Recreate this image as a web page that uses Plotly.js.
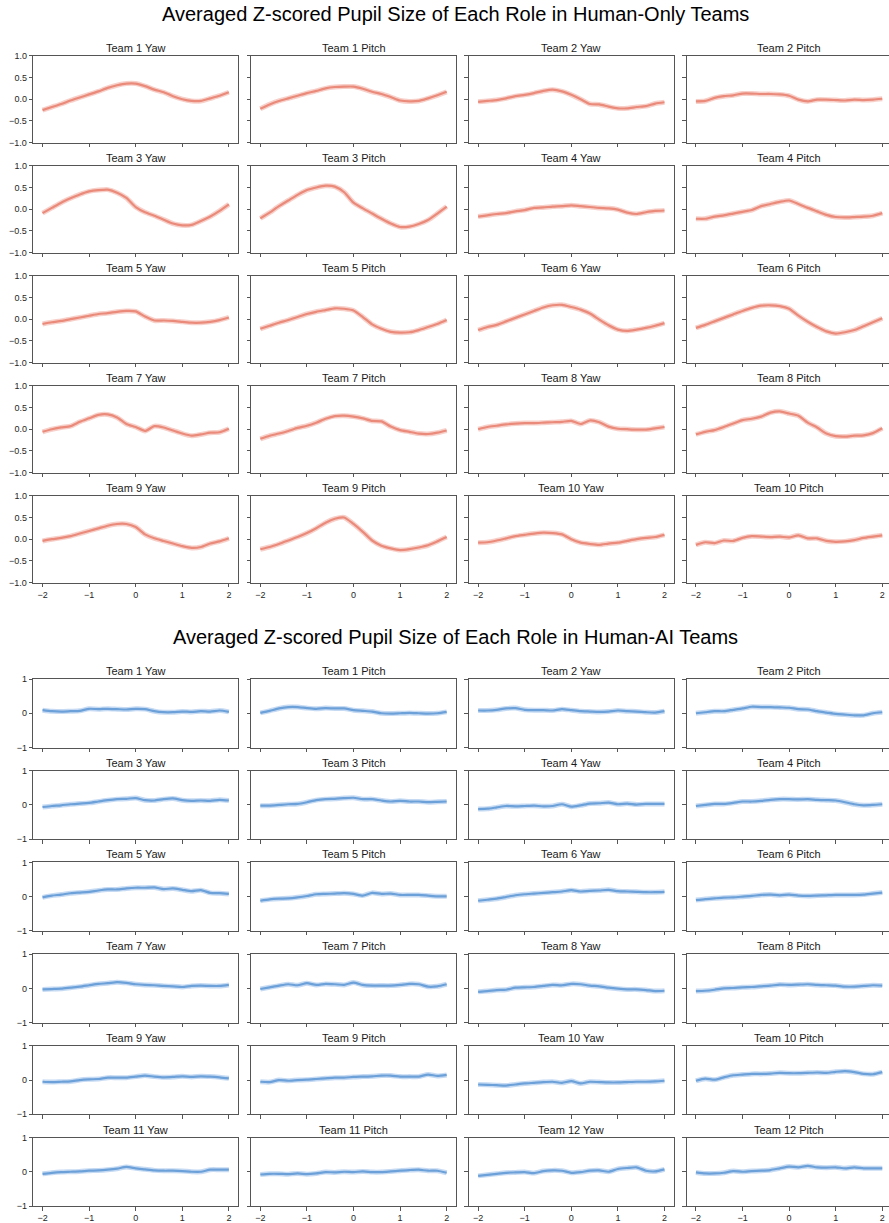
<!DOCTYPE html>
<html><head><meta charset="utf-8">
<script src="https://cdn.plot.ly/plotly-3.0.1.min.js"></script>
<style>html,body{margin:0;padding:0;background:#fff}#chart{width:889px;height:1223px}</style>
</head><body><div id="chart"></div>
<script>
// sample positions (x)
const lag = [-2,-1.8,-1.6,-1.4,-1.2,-1,-0.8,-0.6,-0.4,-0.2,0,0.2,0.4,0.6,0.8,1,1.2,1.4,1.6,1.8,2];
const xTickVals = [-2,-1,0,1,2];
const xTickText = ['\u22122','\u22121','0','1','2'];
const yTickValsHO = [-1,-0.5,0,0.5,1];
const yTickTextHO = ['\u22121.0','\u22120.5','0.0','0.5','1.0'];
const yTickValsAI = [-1,0,1];
const yTickTextAI = ['\u22121','0','1'];
const titleHO = 'Averaged Z-scored Pupil Size of Each Role in Human-Only Teams';
const titleAI = 'Averaged Z-scored Pupil Size of Each Role in Human-AI Teams';
const hoTeams = [1,2,3,4,5,6,7,8,9,10];
const aiTeams = [1,2,3,4,5,6,7,8,9,10,11,12];
const roles = ['Yaw','Pitch'];

// Human-only teams
const ho_t1_yaw   = [-0.25,-0.18,-0.11,-0.03,0.04,0.11,0.18,0.26,0.32,0.36,0.36,0.30,0.22,0.16,0.07,0.00,-0.04,-0.04,0.02,0.08,0.16];
const ho_t1_pitch = [-0.22,-0.12,-0.04,0.02,0.08,0.14,0.19,0.25,0.28,0.29,0.29,0.24,0.17,0.12,0.05,-0.03,-0.05,-0.04,0.02,0.09,0.17];
const ho_t2_yaw   = [-0.06,-0.04,-0.02,0.02,0.07,0.10,0.14,0.19,0.22,0.18,0.10,0.00,-0.11,-0.12,-0.17,-0.21,-0.21,-0.18,-0.16,-0.10,-0.07];
const ho_t2_pitch = [-0.05,-0.04,0.03,0.07,0.09,0.13,0.13,0.12,0.12,0.11,0.08,-0.01,-0.05,-0.01,-0.01,-0.02,-0.03,-0.01,-0.02,-0.01,0.01];
const ho_t3_yaw   = [-0.09,0.03,0.15,0.25,0.34,0.41,0.44,0.45,0.38,0.26,0.05,-0.07,-0.15,-0.24,-0.33,-0.37,-0.36,-0.27,-0.17,-0.04,0.11];
const ho_t3_pitch = [-0.21,-0.08,0.07,0.20,0.33,0.44,0.50,0.54,0.52,0.39,0.15,0.02,-0.10,-0.22,-0.33,-0.41,-0.40,-0.34,-0.25,-0.10,0.06];
const ho_t4_yaw   = [-0.17,-0.14,-0.11,-0.09,-0.05,-0.02,0.03,0.04,0.06,0.07,0.09,0.07,0.05,0.03,0.02,-0.01,-0.08,-0.11,-0.07,-0.04,-0.03];
const ho_t4_pitch = [-0.22,-0.22,-0.17,-0.14,-0.10,-0.06,-0.02,0.07,0.12,0.17,0.20,0.12,0.03,-0.05,-0.13,-0.18,-0.19,-0.18,-0.17,-0.15,-0.09];
const ho_t5_yaw   = [-0.11,-0.07,-0.04,0.00,0.04,0.08,0.12,0.14,0.17,0.19,0.18,0.06,-0.03,-0.03,-0.04,-0.06,-0.08,-0.08,-0.06,-0.02,0.04];
const ho_t5_pitch = [-0.22,-0.15,-0.08,-0.02,0.05,0.12,0.17,0.21,0.25,0.24,0.20,0.05,-0.12,-0.22,-0.29,-0.31,-0.30,-0.25,-0.18,-0.11,-0.02];
const ho_t6_yaw   = [-0.25,-0.18,-0.13,-0.05,0.03,0.11,0.19,0.27,0.32,0.33,0.28,0.22,0.13,-0.01,-0.14,-0.24,-0.27,-0.24,-0.20,-0.15,-0.09];
const ho_t6_pitch = [-0.20,-0.13,-0.05,0.03,0.11,0.19,0.26,0.31,0.32,0.30,0.24,0.08,-0.06,-0.18,-0.28,-0.33,-0.30,-0.25,-0.16,-0.07,0.02];
const ho_t7_yaw   = [-0.06,0.00,0.04,0.07,0.17,0.25,0.33,0.34,0.27,0.12,0.05,-0.04,0.07,0.04,-0.03,-0.10,-0.15,-0.12,-0.08,-0.07,0.01];
const ho_t7_pitch = [-0.22,-0.15,-0.10,-0.04,0.03,0.08,0.15,0.24,0.30,0.31,0.29,0.25,0.19,0.18,0.06,-0.02,-0.06,-0.10,-0.11,-0.08,-0.03];
const ho_t8_yaw   = [0.00,0.05,0.08,0.11,0.13,0.14,0.14,0.15,0.16,0.17,0.19,0.12,0.20,0.16,0.06,0.01,0.00,-0.01,-0.01,0.02,0.05];
const ho_t8_pitch = [-0.12,-0.06,-0.02,0.05,0.13,0.21,0.24,0.29,0.38,0.41,0.36,0.31,0.15,0.04,-0.10,-0.16,-0.17,-0.15,-0.14,-0.09,0.02];
const ho_t9_yaw   = [-0.04,0.00,0.03,0.07,0.13,0.19,0.25,0.31,0.35,0.35,0.28,0.11,0.02,-0.04,-0.10,-0.16,-0.20,-0.18,-0.10,-0.05,0.02];
const ho_t9_pitch = [-0.23,-0.18,-0.11,-0.03,0.05,0.14,0.25,0.38,0.47,0.50,0.35,0.17,-0.03,-0.15,-0.21,-0.25,-0.23,-0.19,-0.14,-0.05,0.05];
const ho_t10_yaw  = [-0.08,-0.07,-0.03,0.02,0.07,0.10,0.13,0.15,0.14,0.11,0.00,-0.08,-0.11,-0.13,-0.10,-0.08,-0.04,0.00,0.03,0.05,0.10];
const ho_t10_pitch= [-0.13,-0.07,-0.09,-0.03,-0.04,0.03,0.07,0.06,0.05,0.06,0.04,0.09,0.02,0.02,-0.04,-0.06,-0.05,-0.02,0.03,0.06,0.09];

// Human-AI teams
const ai_t1_yaw   = [0.09,0.06,0.05,0.06,0.07,0.13,0.12,0.13,0.12,0.11,0.13,0.12,0.06,0.03,0.03,0.05,0.04,0.06,0.05,0.08,0.04];
const ai_t1_pitch = [0.01,0.07,0.14,0.18,0.18,0.15,0.13,0.15,0.14,0.14,0.09,0.07,0.05,0.00,-0.01,0.00,0.01,0.00,-0.01,0.00,0.04];
const ai_t2_yaw   = [0.08,0.08,0.10,0.14,0.15,0.10,0.09,0.09,0.08,0.12,0.09,0.06,0.05,0.04,0.05,0.08,0.06,0.05,0.03,0.02,0.06];
const ai_t2_pitch = [0.00,0.03,0.06,0.06,0.10,0.14,0.19,0.18,0.18,0.17,0.16,0.12,0.11,0.06,0.02,-0.02,-0.04,-0.06,-0.06,0.00,0.03];
const ai_t3_yaw   = [-0.06,-0.03,-0.01,0.02,0.04,0.06,0.10,0.14,0.17,0.18,0.20,0.14,0.13,0.17,0.19,0.14,0.12,0.13,0.12,0.15,0.13];
const ai_t3_pitch = [-0.02,-0.02,0.00,0.02,0.03,0.08,0.14,0.17,0.18,0.20,0.21,0.17,0.17,0.13,0.10,0.12,0.10,0.10,0.08,0.09,0.10];
const ai_t4_yaw   = [-0.12,-0.11,-0.07,-0.03,-0.04,-0.03,-0.02,-0.04,-0.03,0.02,-0.05,-0.01,0.04,0.05,0.07,0.02,0.04,0.01,0.03,0.03,0.03];
const ai_t4_pitch = [-0.03,0.00,0.03,0.03,0.06,0.10,0.10,0.12,0.15,0.17,0.17,0.16,0.17,0.15,0.14,0.13,0.08,0.02,-0.01,0.00,0.02];
const ai_t5_yaw   = [-0.02,0.03,0.06,0.10,0.12,0.14,0.18,0.21,0.21,0.24,0.26,0.26,0.27,0.22,0.24,0.20,0.16,0.19,0.11,0.10,0.08];
const ai_t5_pitch = [-0.12,-0.08,-0.06,-0.05,-0.02,0.02,0.07,0.08,0.09,0.10,0.08,0.03,0.11,0.08,0.09,0.05,0.05,0.05,0.03,0.01,0.01];
const ai_t6_yaw   = [-0.12,-0.09,-0.06,-0.01,0.04,0.07,0.09,0.11,0.13,0.15,0.19,0.15,0.17,0.18,0.20,0.16,0.15,0.14,0.13,0.13,0.14];
const ai_t6_pitch = [-0.10,-0.07,-0.05,-0.03,-0.02,0.00,0.02,0.05,0.06,0.04,0.06,0.03,0.02,0.03,0.04,0.05,0.05,0.05,0.06,0.09,0.12];
const ai_t7_yaw   = [-0.03,-0.02,-0.01,0.02,0.05,0.09,0.13,0.15,0.18,0.16,0.12,0.10,0.09,0.07,0.06,0.04,0.07,0.08,0.07,0.07,0.10];
const ai_t7_pitch = [-0.02,0.03,0.08,0.12,0.09,0.15,0.10,0.13,0.12,0.10,0.17,0.10,0.08,0.08,0.08,0.10,0.13,0.12,0.05,0.06,0.12];
const ai_t8_yaw   = [-0.10,-0.08,-0.05,-0.04,0.02,0.03,0.04,0.07,0.10,0.09,0.13,0.12,0.08,0.06,0.02,-0.01,-0.03,-0.03,-0.05,-0.08,-0.07];
const ai_t8_pitch = [-0.08,-0.07,-0.04,0.00,0.01,0.03,0.04,0.06,0.08,0.11,0.10,0.11,0.12,0.10,0.09,0.08,0.05,0.05,0.07,0.09,0.08];
const ai_t9_yaw   = [-0.05,-0.06,-0.05,-0.04,0.00,0.02,0.03,0.07,0.07,0.07,0.10,0.13,0.10,0.08,0.09,0.11,0.09,0.11,0.10,0.08,0.05];
const ai_t9_pitch = [-0.05,-0.06,0.00,-0.02,0.00,0.01,0.03,0.05,0.07,0.07,0.09,0.10,0.11,0.13,0.13,0.10,0.10,0.10,0.16,0.12,0.15];
const ai_t10_yaw  = [-0.13,-0.14,-0.15,-0.16,-0.13,-0.10,-0.08,-0.06,-0.05,-0.08,-0.03,-0.10,-0.05,-0.06,-0.07,-0.07,-0.06,-0.05,-0.05,-0.04,-0.02];
const ai_t10_pitch= [-0.02,0.04,0.01,0.08,0.14,0.16,0.18,0.18,0.19,0.21,0.20,0.20,0.21,0.22,0.21,0.24,0.26,0.23,0.18,0.17,0.23];
const ai_t11_yaw  = [-0.06,-0.03,-0.01,0.00,0.01,0.03,0.04,0.06,0.09,0.14,0.10,0.07,0.04,0.03,0.03,0.02,0.00,0.00,0.06,0.06,0.06];
const ai_t11_pitch= [-0.08,-0.06,-0.06,-0.07,-0.05,-0.07,-0.05,-0.01,-0.02,0.00,-0.01,0.01,-0.01,-0.01,0.01,0.03,0.05,0.06,0.03,0.03,-0.03];
const ai_t12_yaw  = [-0.12,-0.09,-0.06,-0.03,-0.02,-0.01,-0.04,0.02,0.04,0.03,-0.03,-0.01,0.03,0.04,0.00,0.08,0.11,0.13,0.03,0.01,0.07];
const ai_t12_pitch= [-0.02,-0.05,-0.05,-0.03,0.02,0.00,0.02,0.03,0.05,0.10,0.15,0.13,0.17,0.13,0.12,0.13,0.10,0.13,0.10,0.10,0.10];

const hoSeries = [
  ho_t1_yaw, ho_t1_pitch, ho_t2_yaw, ho_t2_pitch,
  ho_t3_yaw, ho_t3_pitch, ho_t4_yaw, ho_t4_pitch,
  ho_t5_yaw, ho_t5_pitch, ho_t6_yaw, ho_t6_pitch,
  ho_t7_yaw, ho_t7_pitch, ho_t8_yaw, ho_t8_pitch,
  ho_t9_yaw, ho_t9_pitch, ho_t10_yaw, ho_t10_pitch
];
const aiSeries = [
  ai_t1_yaw, ai_t1_pitch, ai_t2_yaw, ai_t2_pitch,
  ai_t3_yaw, ai_t3_pitch, ai_t4_yaw, ai_t4_pitch,
  ai_t5_yaw, ai_t5_pitch, ai_t6_yaw, ai_t6_pitch,
  ai_t7_yaw, ai_t7_pitch, ai_t8_yaw, ai_t8_pitch,
  ai_t9_yaw, ai_t9_pitch, ai_t10_yaw, ai_t10_pitch,
  ai_t11_yaw, ai_t11_pitch, ai_t12_yaw, ai_t12_pitch
];

// ---------- layout geometry (pixels) ----------
const W = 889, H = 1223;
const colL = [33.2, 251.0, 468.8, 686.6];
const colW = 205;
const FONT = 'Liberation Sans, Arial, Helvetica, sans-serif';
const SPINE = '#555555';

const data = [];
const layout = {
  width: W, height: H,
  margin: {l:0, r:0, t:0, b:0},
  paper_bgcolor: '#ffffff', plot_bgcolor: '#ffffff',
  showlegend: false,
  font: {family: FONT, size: 9, color: '#262626'},
  annotations: []
};

let n = 0;
function addPanel(series, teamLabel, col, rowTop, rowH, isBottom, yVals, yText, core, halo) {
  n += 1;
  const xs = n === 1 ? '' : String(n);
  const right = Math.min(W, colL[col] + colW);
  const xr1 = -2.2 + 4.4 * (right - colL[col]) / colW;
  const dom = [1 - (rowTop + rowH) / H, 1 - rowTop / H];
  layout['xaxis' + xs] = {
    domain: [colL[col] / W, right / W],
    anchor: 'y' + xs,
    range: [-2.2, xr1], fixedrange: true,
    showgrid: false, zeroline: false,
    showline: true, mirror: true, linecolor: SPINE, linewidth: 1,
    ticks: 'outside', ticklen: 3.5, tickwidth: 1, tickcolor: SPINE,
    tickmode: 'array', tickvals: xTickVals, ticktext: xTickText,
    showticklabels: isBottom,
    tickfont: {family: FONT, size: 9, color: '#262626'}
  };
  layout['yaxis' + xs] = {
    domain: dom,
    anchor: 'x' + xs,
    range: [-1, 1], fixedrange: true,
    showgrid: false, zeroline: false,
    showline: true, mirror: col === 3 ? false : true, linecolor: SPINE, linewidth: 1,
    ticks: 'outside', ticklen: 3.5, tickwidth: 1, tickcolor: SPINE,
    tickmode: 'array', tickvals: yVals, ticktext: yText,
    showticklabels: col === 0,
    tickfont: {family: FONT, size: 9, color: '#262626'}
  };
  data.push({x: lag, y: series, xaxis: 'x' + xs, yaxis: 'y' + xs, type: 'scatter', mode: 'lines',
    line: {color: halo, width: 5, shape: 'spline', smoothing: 0.6}, hoverinfo: 'skip'});
  data.push({x: lag, y: series, xaxis: 'x' + xs, yaxis: 'y' + xs, type: 'scatter', mode: 'lines',
    line: {color: core, width: 2.2, shape: 'spline', smoothing: 0.6}, hoverinfo: 'skip'});
  layout.annotations.push({
    xref: 'paper', yref: 'paper',
    x: (colL[col] + colW / 2) / W, y: 1 - rowTop / H,
    xanchor: 'center', yanchor: 'bottom', yshift: 0,
    text: teamLabel, showarrow: false,
    font: {family: FONT, size: 11, color: '#1a1a1a'}
  });
}

// Human-only grid: 5 rows x 4 cols
hoSeries.forEach((s, i) => {
  const row = Math.floor(i / 4), col = i % 4;
  const team = hoTeams[row * 2 + Math.floor(col / 2)];
  const role = roles[col % 2];
  addPanel(s, 'Team ' + team + ' ' + role, col, 55.7 + 110 * row, 87, row === 4,
    yTickValsHO, yTickTextHO, 'rgb(234,138,122)', 'rgba(240,170,158,0.55)');
});
// Human-AI grid: 6 rows x 4 cols
aiSeries.forEach((s, i) => {
  const row = Math.floor(i / 4), col = i % 4;
  const team = aiTeams[row * 2 + Math.floor(col / 2)];
  const role = roles[col % 2];
  addPanel(s, 'Team ' + team + ' ' + role, col, 679 + 91.7 * row, 68.5, row === 5,
    yTickValsAI, yTickTextAI, 'rgb(108,160,216)', 'rgba(160,195,235,0.6)');
});

layout.annotations.push({
  xref: 'paper', yref: 'paper', x: 456 / W, y: 1 - 14.5 / H,
  xanchor: 'center', yanchor: 'middle', showarrow: false,
  text: titleHO, font: {family: FONT, size: 20, color: '#000'}
});
layout.annotations.push({
  xref: 'paper', yref: 'paper', x: 456 / W, y: 1 - 637 / H,
  xanchor: 'center', yanchor: 'middle', showarrow: false,
  text: titleAI, font: {family: FONT, size: 20, color: '#000'}
});

Plotly.newPlot('chart', data, layout, {staticPlot: true, displayModeBar: false});
</script>
</body></html>
